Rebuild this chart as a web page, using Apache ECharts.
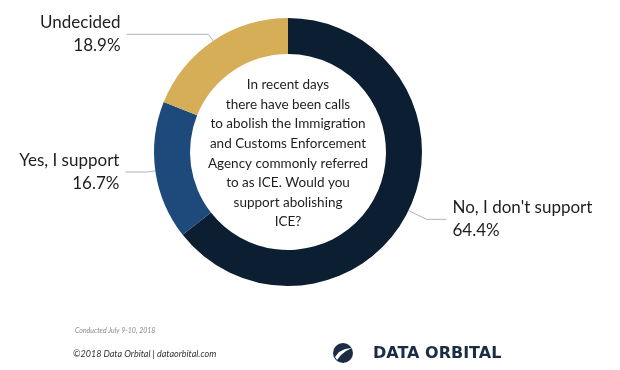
<!DOCTYPE html>
<html><head><meta charset="utf-8">
<script src="https://cdn.jsdelivr.net/npm/echarts@6/dist/echarts.min.js"></script>
<style>html,body{margin:0;padding:0;background:#fff}#c{width:620px;height:370px}</style>
</head><body><div id="c"></div>
<script>
const categories = ["No, I don't support", "Yes, I support", "Undecided"];
const values = [64.4, 16.7, 18.9];
const colors = ["#0c1e31", "#1d4a7b", "#d6ae58"];
const lineLen1 = [20, 8, 8];
const lineLen2 = [20, 22, 82];
const question = "In recent days\nthere have been calls\nto abolish the Immigration\nand Customs Enforcement\nAgency commonly referred\nto as ICE. Would you\nsupport abolishing\nICE?";
const footNote = "Conducted July 9-10, 2018";
const credit = "©2018 Data Orbital | dataorbital.com";
const brand = "DATA ORBITAL";

const FONT = "Lato, 'Open Sans', sans-serif";
const chart = echarts.init(document.getElementById('c'), null, {renderer: 'canvas'});
const data = categories.map((n, i) => ({
  name: n, value: values[i],
  itemStyle: {color: colors[i]},
  labelLine: {length: lineLen1[i], length2: lineLen2[i]}
}));
chart.setOption({
  animation: false,
  series: [{
    type: 'pie',
    center: [288, 152],
    radius: [98, 134],
    startAngle: 90,
    clockwise: true,
    avoidLabelOverlap: false,
    silent: true,
    data: data,
    label: {
      show: true,
      formatter: '{b}\n{c}%',
      fontFamily: FONT,
      fontSize: 17,
      lineHeight: 23,
      color: '#1e1e1e',
      distanceToLabelLine: 6
    },
    labelLine: {
      show: true,
      lineStyle: {color: '#a9b3bf', width: 1}
    }
  }],
  graphic: [
    {type: 'text', x: 288, y: 75, z: 100, style: {
      text: question, align: 'center', verticalAlign: 'top',
      font: "13.5px " + FONT, lineHeight: 19.6, fill: '#1e1e1e'
    }},
    {type: 'text', x: 75, y: 327, z: 100, style: {
      text: footNote, font: "italic 7px " + FONT, fill: '#8a8a8a'
    }},
    {type: 'text', x: 73, y: 350, z: 100, style: {
      text: credit, font: "italic 9px " + FONT, fill: '#333'
    }},
    {type: 'circle', x: 343, y: 353, z: 100, shape: {cx: 0, cy: 0, r: 10}, style: {fill: '#1a2d44'}},
    {type: 'polygon', x: 335, y: 347, z: 101, shape: {points: [[0,10],[4,5],[10,2],[17,1],[11,4],[6,8],[2,13]]}, style: {fill: '#ffffff'}},
    {type: 'text', x: 373, y: 346, z: 100, style: {
      text: brand, font: "bold 16px 'DejaVu Sans'", fill: '#1a2d44'
    }}
  ]
});
</script></body></html>
